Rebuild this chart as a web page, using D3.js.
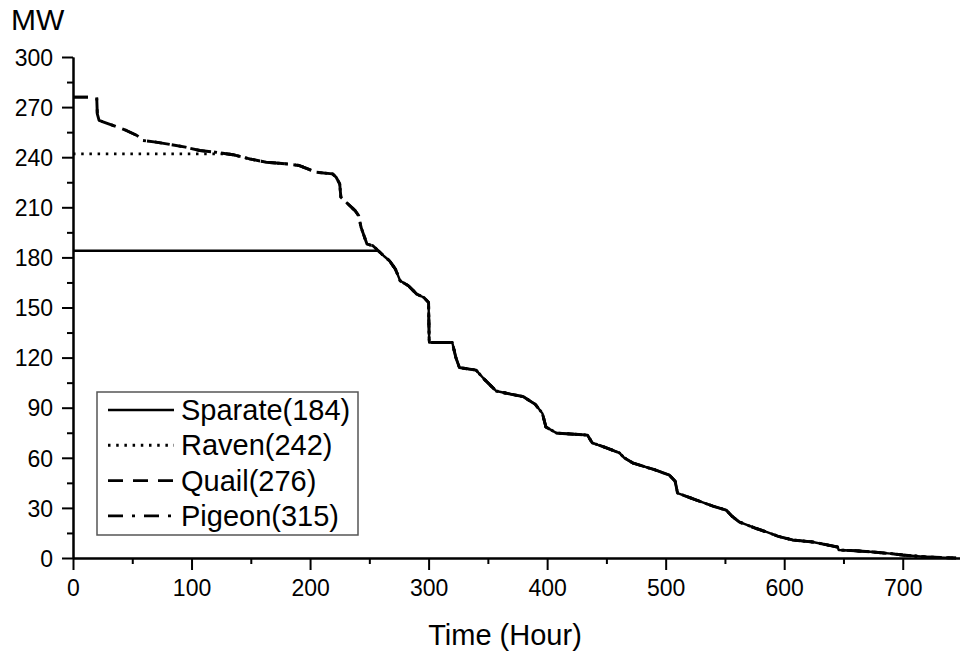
<!DOCTYPE html>
<html>
<head>
<meta charset="utf-8">
<script src="https://cdn.jsdelivr.net/npm/d3@7"></script>
<style>
  html, body { margin: 0; padding: 0; background: #fff; }
  svg { display: block; font-family: "Liberation Sans", Arial, sans-serif; }
</style>
</head>
<body>
<svg id="chart" width="960" height="656"></svg>
<script>
// ---- data (load duration curve, hours vs MW) ----
const hours = [0, 20, 20.5, 22, 30, 45, 54, 59, 70, 79, 95, 107, 120, 135, 149, 163, 180, 191, 205, 219, 222, 225, 226, 232, 238, 241, 243, 246, 248, 253, 256, 262, 267, 272, 276, 283, 290, 296, 300, 300.5, 320, 323, 326, 340, 347, 357, 370, 380, 390, 396, 399, 408, 434, 438, 450, 461, 465, 472, 490, 503, 508, 510, 526, 540, 551, 556, 562, 575, 585, 595, 607, 624, 635, 645, 646, 660, 675, 690, 700, 710, 720, 735, 745];
const loadMW = [276, 276, 266, 262, 260, 256, 253, 250, 249, 248, 246, 244, 243, 241.5, 239, 237, 236, 235, 231, 230, 228, 224, 216, 212, 208, 205, 198, 192, 188, 187, 185, 181, 178, 173, 166, 163, 158, 156, 153, 129, 129, 120, 114, 112.5, 107, 100, 98, 96.6, 92, 86.6, 78.4, 74.8, 73.6, 69, 66, 62.9, 60, 57, 53, 49.7, 46, 38.9, 34.7, 31, 28.7, 25, 21.6, 18, 15.6, 13, 10.8, 9.6, 8, 6.6, 4.8, 4.3, 3.6, 2.6, 1.8, 1.2, 0.6, 0.2, 0];
const seriesNames = ["Sparate", "Raven", "Quail", "Pigeon"];
const seriesCaps = [184, 242, 276, 315];
const seriesDash = ["none", "2.5,5.7", "15,10", "15,9,3,9"];
const xTicks = [0, 100, 200, 300, 400, 500, 600, 700];
const yTicks = [0, 30, 60, 90, 120, 150, 180, 210, 240, 270, 300];
const xMinor = [50, 150, 250, 350, 450, 550, 650, 750];
const yMinor = [15, 45, 75, 105, 135, 165, 195, 225, 255, 285];

const svg = d3.select("#chart");
const x = d3.scaleLinear().domain([0, 750]).range([73, 962]);
const y = d3.scaleLinear().domain([0, 300]).range([558, 57]);

function capSeries(cap) {
  const out = [];
  for (let i = 0; i < hours.length; i++) {
    const h = hours[i], m = loadMW[i];
    if (i > 0) {
      const h0 = hours[i - 1], m0 = loadMW[i - 1];
      if ((m0 - cap) * (m - cap) < 0) {
        const t = (cap - m0) / (m - m0);
        out.push([h0 + t * (h - h0), cap]);
      }
    }
    out.push([h, Math.min(m, cap)]);
  }
  return out;
}

const line = d3.line().x(d => x(d[0])).y(d => y(d[1]));

// draw series (Pigeon first, Sparate last)
for (let k = seriesNames.length - 1; k >= 0; k--) {
  svg.append("path")
    .attr("d", line(capSeries(seriesCaps[k])))
    .attr("fill", "none")
    .attr("stroke", "#000")
    .attr("stroke-width", k === 0 ? 2.4 : 2.9)
    .attr("stroke-dasharray", seriesDash[k])
    .attr("stroke-linejoin", "round");
}

// axes
const axisFont = 23;
const yAxis = svg.append("g").attr("transform", `translate(${x(0)},0)`)
  .call(d3.axisLeft(y).tickValues(yTicks).tickSize(11).tickPadding(9).tickSizeOuter(0));
const yMin = svg.append("g").attr("transform", `translate(${x(0)},0)`)
  .call(d3.axisLeft(y).tickValues(yMinor).tickSize(6).tickFormat("").tickSizeOuter(0));
const xAxis = svg.append("g").attr("transform", `translate(0,${y(0)})`)
  .call(d3.axisBottom(x).tickValues(xTicks).tickSize(12).tickPadding(10).tickSizeOuter(0));
const xMin = svg.append("g").attr("transform", `translate(0,${y(0)})`)
  .call(d3.axisBottom(x).tickValues(xMinor).tickSize(6).tickFormat("").tickSizeOuter(0));

[yAxis, yMin, xAxis, xMin].forEach(g => {
  g.selectAll(".domain").attr("stroke", "#000").attr("stroke-width", 2);
  g.selectAll(".tick line").attr("stroke", "#000").attr("stroke-width", 2);
  g.selectAll("text").attr("font-size", axisFont).attr("fill", "#000")
    .attr("font-family", '"Liberation Sans", Arial, sans-serif');
});
yAxis.selectAll("text").attr("dy", "0.36em");

// axis titles
svg.append("text").attr("x", 11).attr("y", 30).attr("font-size", 30).text("MW");
svg.append("text").attr("x", 505).attr("y", 645).attr("text-anchor", "middle")
  .attr("font-size", 29).text("Time (Hour)");

// legend
const lg = svg.append("g");
lg.append("rect").attr("x", 97).attr("y", 392).attr("width", 261).attr("height", 143)
  .attr("fill", "#fff").attr("stroke", "#555").attr("stroke-width", 1.5);
seriesNames.forEach((name, i) => {
  const cy = 410 + i * 35.3;
  lg.append("line").attr("x1", 108).attr("x2", 174).attr("y1", cy).attr("y2", cy)
    .attr("stroke", "#000").attr("stroke-width", i === 0 ? 2.4 : 2.9)
    .attr("stroke-dasharray", seriesDash[i]);
  lg.append("text").attr("x", 181).attr("y", cy + 10).attr("font-size", 29)
    .text(`${name}(${seriesCaps[i]})`);
});
</script>
</body>
</html>
